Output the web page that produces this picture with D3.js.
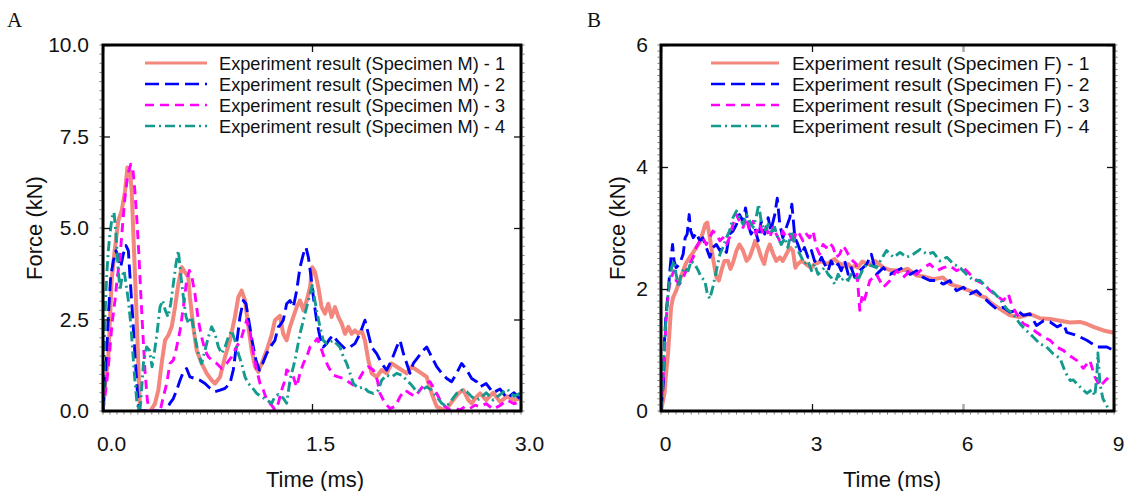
<!DOCTYPE html>
<html><head><meta charset="utf-8">
<script src="https://cdn.jsdelivr.net/npm/d3@7/dist/d3.min.js"></script>
<style>html,body{margin:0;padding:0;background:#fff;}svg{display:block;}</style>
</head><body>
<svg id="chart" width="1141" height="491"></svg>
<script>
// ---------------- DATA ----------------
const legendA = ["Experiment result (Specimen M) - 1","Experiment result (Specimen M) - 2","Experiment result (Specimen M) - 3","Experiment result (Specimen M) - 4"];
const legendB = ["Experiment result (Specimen F) - 1","Experiment result (Specimen F) - 2","Experiment result (Specimen F) - 3","Experiment result (Specimen F) - 4"];
const xTicksA = [0, 1.5, 3];
const yTicksA = [0, 2.5, 5, 7.5, 10];
const xTicksB = [0, 3, 6, 9];
const yTicksB = [0, 2, 4, 6];

// Panel A: [time ms, force kN]
const seriesA1 = [[0,0.2],[0.038,1.48],[0.062,3.57],[0.086,4.47],[0.11,5.2],[0.134,5.47],[0.158,6.0],[0.175,6.65],[0.194,6.56],[0.206,6.0],[0.218,4.84],[0.237,3.02],[0.254,1.2],[0.266,0],[0.34,0],[0.373,0.2],[0.397,0.57],[0.421,1.3],[0.445,1.93],[0.469,2.07],[0.493,2.3],[0.517,2.84],[0.541,3.48],[0.565,3.93],[0.589,3.79],[0.612,3.66],[0.624,3.11],[0.648,2.3],[0.672,1.66],[0.708,1.3],[0.744,1.03],[0.78,0.84],[0.804,0.75],[0.84,0.93],[0.876,1.48],[0.911,1.93],[0.947,2.57],[0.971,3.11],[0.995,3.29],[1.019,3.02],[1.043,2.3],[1.067,1.66],[1.091,1.21],[1.115,1.07],[1.139,1.3],[1.175,1.66],[1.21,2.07],[1.234,2.48],[1.27,2.6],[1.294,2.1],[1.318,1.93],[1.342,2.3],[1.366,2.57],[1.39,2.84],[1.414,3.02],[1.438,2.75],[1.462,3.02],[1.486,3.39],[1.502,3.93],[1.522,3.79],[1.545,3.39],[1.569,2.84],[1.593,2.66],[1.617,2.93],[1.641,2.57],[1.665,2.84],[1.689,2.57],[1.713,2.39],[1.737,2.11],[1.761,2.3],[1.785,2.11],[1.808,2.2],[1.832,2.11],[1.856,2.2],[1.88,1.93],[1.904,1.39],[1.928,1.03],[1.964,0.93],[2.0,1.12],[2.036,1.03],[2.072,1.3],[2.108,1.21],[2.144,1.12],[2.18,1.03],[2.215,1.21],[2.251,1.12],[2.287,1.03],[2.323,0.93],[2.359,0.48],[2.395,0.12],[2.443,0.03],[2.478,0.12],[2.514,0.3],[2.55,0.48],[2.586,0.57],[2.622,0.3],[2.646,0.21],[2.682,0.39],[2.706,0.48],[2.75,0.3],[2.8,0.5],[2.85,0.25],[2.9,0.4],[2.95,0.3],[3.0,0.35]];
const seriesA2 = [[0,0],[0.022,1.2],[0.038,2.57],[0.055,3.66],[0.074,4.1],[0.093,4.38],[0.11,4.2],[0.127,3.93],[0.146,4.29],[0.165,4.52],[0.182,4.38],[0.194,3.66],[0.213,2.57],[0.23,1.48],[0.246,0.57],[0.26,0],[0.452,0],[0.48,0.21],[0.505,0.34],[0.529,0.57],[0.553,0.84],[0.577,1.07],[0.6,1.16],[0.624,0.93],[0.66,0.89],[0.696,0.84],[0.732,0.75],[0.768,0.62],[0.804,0.53],[0.84,0.57],[0.876,0.62],[0.911,0.75],[0.935,1.12],[0.959,1.84],[0.983,2.57],[1.007,3.02],[1.026,2.93],[1.05,2.39],[1.074,1.84],[1.098,1.39],[1.122,1.12],[1.146,1.3],[1.175,1.57],[1.21,1.8],[1.234,1.93],[1.258,2.3],[1.27,2.34],[1.294,2.48],[1.318,2.93],[1.342,3.02],[1.366,2.84],[1.39,3.29],[1.414,3.93],[1.438,4.29],[1.457,4.47],[1.474,4.2],[1.49,3.75],[1.51,3.11],[1.533,2.48],[1.557,2.02],[1.581,1.75],[1.605,1.84],[1.629,1.98],[1.653,2.07],[1.677,1.93],[1.7,1.84],[1.737,1.7],[1.773,1.75],[1.808,1.84],[1.844,2.11],[1.88,2.48],[1.904,2.11],[1.928,1.75],[1.964,1.57],[2.0,1.3],[2.036,1.12],[2.072,1.39],[2.108,1.75],[2.132,1.93],[2.156,1.57],[2.18,1.3],[2.203,1.03],[2.227,1.3],[2.263,1.48],[2.299,1.66],[2.323,1.75],[2.359,1.48],[2.395,1.21],[2.431,1.03],[2.467,0.89],[2.502,0.8],[2.538,1.03],[2.574,1.3],[2.61,1.12],[2.646,0.89],[2.682,0.8],[2.706,0.66],[2.75,0.75],[2.8,0.5],[2.85,0.6],[2.9,0.35],[2.95,0.5],[3.0,0.3]];
const seriesA3 = [[0,0],[0.026,0.75],[0.045,1.48],[0.065,2.39],[0.086,3.02],[0.103,3.66],[0.122,4.2],[0.141,5.11],[0.16,5.93],[0.179,6.47],[0.199,6.74],[0.213,6.65],[0.225,6.2],[0.242,5.29],[0.256,4.38],[0.27,3.29],[0.285,2.2],[0.301,1.12],[0.318,0.3],[0.333,0],[0.41,0],[0.433,0.39],[0.457,0.75],[0.481,1.3],[0.505,1.39],[0.529,1.75],[0.553,2.2],[0.577,2.84],[0.6,3.57],[0.62,3.84],[0.636,3.7],[0.66,3.2],[0.684,2.48],[0.708,2.02],[0.732,1.66],[0.756,1.48],[0.78,1.39],[0.816,1.3],[0.852,1.16],[0.888,1.3],[0.923,1.48],[0.959,1.75],[0.995,2.02],[1.031,2.48],[1.055,2.2],[1.079,1.57],[1.103,1.12],[1.127,0.75],[1.151,0.57],[1.175,0.3],[1.21,0.16],[1.234,0.03],[1.258,0.21],[1.282,0.57],[1.306,0.84],[1.318,1.12],[1.342,1.05],[1.366,0.93],[1.39,0.66],[1.414,1.03],[1.438,1.3],[1.462,1.48],[1.486,1.75],[1.51,1.84],[1.538,1.98],[1.562,1.75],[1.586,1.48],[1.617,1.21],[1.653,0.98],[1.689,0.93],[1.725,0.89],[1.761,0.8],[1.797,0.71],[1.832,0.84],[1.868,1.07],[1.904,1.21],[1.94,1.12],[1.969,0.84],[1.988,0.48],[2.024,0.21],[2.06,0.07],[2.096,0.12],[2.132,0.39],[2.167,0.57],[2.203,0.48],[2.239,0.39],[2.275,0.57],[2.311,0.75],[2.347,0.8],[2.383,0.57],[2.419,0.3],[2.455,0.12],[2.49,0.03],[2.526,0.07],[2.562,0.03],[2.598,0.12],[2.634,0.07],[2.67,0.16],[2.706,0.12],[2.75,0.2],[2.8,0.05],[2.85,0.15],[2.9,0.3],[2.95,0.2],[3.0,0.25]];
const seriesA4 = [[0,0],[0.007,0.75],[0.014,2.57],[0.026,3.66],[0.038,4.38],[0.05,4.84],[0.065,5.29],[0.079,5.43],[0.093,4.84],[0.108,3.93],[0.122,3.29],[0.136,3.66],[0.151,3.84],[0.165,3.48],[0.182,3.02],[0.199,2.39],[0.213,1.66],[0.227,0.93],[0.242,0.3],[0.256,0],[0.27,0.2],[0.29,1.3],[0.313,1.75],[0.333,1.66],[0.352,1.21],[0.371,1.66],[0.39,2.2],[0.409,2.84],[0.428,3.02],[0.447,2.75],[0.467,2.57],[0.486,2.93],[0.505,3.48],[0.524,4.02],[0.541,4.38],[0.557,3.75],[0.577,3.11],[0.596,2.57],[0.615,2.39],[0.636,2.57],[0.66,2.02],[0.684,1.57],[0.708,1.3],[0.732,1.66],[0.756,2.02],[0.78,2.3],[0.804,2.11],[0.828,1.75],[0.852,1.57],[0.876,1.75],[0.9,2.02],[0.923,2.2],[0.947,1.93],[0.971,1.57],[0.995,1.3],[1.019,0.93],[1.043,0.75],[1.067,0.66],[1.103,0.48],[1.139,0.39],[1.175,0.3],[1.21,0.21],[1.234,0.39],[1.258,0.45],[1.294,0.35],[1.318,0.21],[1.342,0.84],[1.378,1.39],[1.414,2.11],[1.45,2.66],[1.486,3.2],[1.502,3.43],[1.533,2.75],[1.557,2.3],[1.581,1.93],[1.605,1.84],[1.653,1.93],[1.7,1.75],[1.725,1.48],[1.749,1.3],[1.773,1.03],[1.797,0.75],[1.833,0.62],[1.868,0.66],[1.904,0.53],[1.94,0.48],[1.976,0.57],[2.0,0.84],[2.036,0.98],[2.072,0.93],[2.108,1.03],[2.144,0.98],[2.179,0.84],[2.215,0.71],[2.251,0.53],[2.287,0.57],[2.323,0.66],[2.359,0.57],[2.395,0.39],[2.431,0.21],[2.467,0.12],[2.502,0.3],[2.538,0.48],[2.574,0.57],[2.61,0.53],[2.646,0.39],[2.682,0.3],[2.706,0.34],[2.75,0.5],[2.8,0.3],[2.85,0.45],[2.9,0.6],[2.95,0.4],[3.0,0.5]];

// Panel B: [time ms, force kN]
const seriesB1 = [[0,0],[0.07,0.29],[0.1,0.61],[0.14,0.94],[0.17,1.32],[0.2,1.7],[0.24,1.86],[0.3,1.97],[0.37,2.14],[0.44,2.3],[0.5,2.43],[0.57,2.52],[0.64,2.6],[0.7,2.68],[0.77,2.76],[0.83,2.92],[0.88,3.06],[0.92,3.09],[0.97,2.84],[1.03,2.52],[1.1,2.19],[1.15,2.14],[1.2,2.3],[1.26,2.46],[1.33,2.46],[1.38,2.33],[1.43,2.43],[1.5,2.63],[1.56,2.73],[1.63,2.63],[1.7,2.46],[1.76,2.52],[1.83,2.68],[1.87,2.79],[1.93,2.68],[1.99,2.52],[2.05,2.41],[2.1,2.6],[2.16,2.73],[2.23,2.57],[2.29,2.46],[2.36,2.52],[2.42,2.46],[2.49,2.57],[2.56,2.68],[2.62,2.63],[2.67,2.35],[2.72,2.41],[2.79,2.46],[2.85,2.43],[2.92,2.38],[2.99,2.35],[3.05,2.41],[3.12,2.43],[3.19,2.46],[3.25,2.43],[3.32,2.41],[3.38,2.46],[3.45,2.49],[3.52,2.43],[3.58,2.41],[3.65,2.38],[3.72,2.41],[3.78,2.35],[3.85,2.38],[3.91,2.35],[4.0,2.45],[4.15,2.4],[4.25,2.46],[4.42,2.35],[4.55,2.31],[4.75,2.3],[4.9,2.33],[5.08,2.22],[5.25,2.2],[5.42,2.16],[5.6,2.19],[5.74,2.08],[5.94,2.03],[6.14,1.97],[6.34,1.89],[6.45,1.86],[6.54,1.78],[6.74,1.67],[6.93,1.57],[7.13,1.54],[7.33,1.59],[7.53,1.52],[7.73,1.51],[7.93,1.48],[8.13,1.45],[8.32,1.46],[8.45,1.43],[8.59,1.38],[8.79,1.32],[8.95,1.29],[9.0,1.28]];
const seriesB2 = [[0,0],[0.05,0.5],[0.07,1.16],[0.1,1.59],[0.14,1.92],[0.17,2.24],[0.2,2.52],[0.23,2.73],[0.26,2.46],[0.3,2.35],[0.37,2.41],[0.44,2.57],[0.48,2.84],[0.52,2.9],[0.56,3.22],[0.59,2.95],[0.64,2.84],[0.7,2.92],[0.77,2.79],[0.83,2.84],[0.9,2.68],[0.97,2.52],[1.03,2.68],[1.1,2.73],[1.17,2.63],[1.23,2.68],[1.3,2.6],[1.36,2.9],[1.43,2.95],[1.5,3.06],[1.56,3.22],[1.63,3.11],[1.68,3.33],[1.73,3.06],[1.79,2.9],[1.86,3.01],[1.93,2.79],[1.99,3.11],[2.06,2.9],[2.13,3.17],[2.18,2.95],[2.26,3.22],[2.31,3.49],[2.36,3.06],[2.42,2.84],[2.49,3.01],[2.56,3.17],[2.6,3.39],[2.66,2.84],[2.72,2.73],[2.79,2.57],[2.85,2.68],[2.92,2.52],[2.99,2.63],[3.05,2.46],[3.12,2.41],[3.19,2.52],[3.25,2.41],[3.32,2.3],[3.38,2.46],[3.45,2.35],[3.52,2.41],[3.58,2.3],[3.65,2.46],[3.72,2.24],[3.78,2.35],[3.85,2.19],[3.95,2.3],[4.09,2.41],[4.18,2.57],[4.28,2.24],[4.42,2.35],[4.55,2.24],[4.68,2.3],[4.81,2.35],[4.95,2.24],[5.08,2.3],[5.21,2.19],[5.34,2.14],[5.48,2.14],[5.61,2.08],[5.74,2.14],[5.87,1.97],[6.01,2.03],[6.14,1.92],[6.27,1.97],[6.41,1.86],[6.54,1.76],[6.67,1.67],[6.8,1.7],[6.93,1.62],[7.07,1.65],[7.2,1.57],[7.33,1.59],[7.46,1.4],[7.6,1.48],[7.73,1.46],[7.87,1.38],[8.0,1.43],[8.06,1.29],[8.26,1.24],[8.46,1.16],[8.66,1.05],[8.86,1.05],[9.0,0.99]];
const seriesB3 = [[0,0],[0.06,0.78],[0.1,1.48],[0.15,1.97],[0.2,2.19],[0.26,2.3],[0.3,2.14],[0.37,2.08],[0.44,2.19],[0.5,2.3],[0.57,2.41],[0.64,2.52],[0.7,2.68],[0.77,2.79],[0.83,2.84],[0.9,2.73],[0.97,2.84],[1.03,2.95],[1.1,2.9],[1.17,2.79],[1.23,2.84],[1.3,2.73],[1.36,2.84],[1.43,3.06],[1.5,3.22],[1.56,3.11],[1.63,3.01],[1.7,3.17],[1.76,2.95],[1.83,3.11],[1.89,2.9],[1.96,3.06],[2.03,2.9],[2.09,3.01],[2.16,2.84],[2.23,3.01],[2.29,2.9],[2.36,2.79],[2.42,2.95],[2.49,2.84],[2.56,2.9],[2.62,2.73],[2.69,2.95],[2.75,2.9],[2.82,2.79],[2.89,2.9],[2.95,2.84],[3.02,2.95],[3.09,2.68],[3.15,2.57],[3.22,2.73],[3.28,2.68],[3.35,2.76],[3.42,2.68],[3.48,2.52],[3.55,2.57],[3.62,2.71],[3.68,2.63],[3.75,2.52],[3.81,2.46],[3.88,2.41],[3.95,1.65],[3.99,1.86],[4.02,1.76],[4.15,2.14],[4.28,2.24],[4.42,2.03],[4.55,2.14],[4.68,2.3],[4.81,2.19],[4.95,2.3],[5.08,2.24],[5.21,2.35],[5.34,2.41],[5.48,2.3],[5.61,2.35],[5.74,2.38],[5.87,2.3],[6.01,2.35],[6.14,2.24],[6.27,2.14],[6.41,2.08],[6.54,1.97],[6.67,1.89],[6.8,1.81],[6.9,1.92],[6.97,1.73],[7.07,1.59],[7.2,1.43],[7.33,1.38],[7.46,1.29],[7.6,1.21],[7.73,1.16],[7.86,1.05],[8.0,0.99],[8.06,0.94],[8.26,0.83],[8.39,0.7],[8.52,0.83],[8.62,0.56],[8.72,0.4],[8.86,0.53],[9.0,0.45]];
const seriesB4 = [[0,0],[0.05,0.72],[0.09,1.38],[0.13,1.81],[0.17,2.14],[0.21,2.35],[0.26,2.46],[0.3,2.24],[0.35,2.03],[0.4,2.24],[0.47,2.35],[0.54,2.3],[0.6,2.46],[0.67,2.41],[0.74,2.3],[0.8,2.19],[0.87,2.14],[0.92,1.92],[0.97,1.84],[1.03,2.03],[1.1,2.3],[1.17,2.57],[1.23,2.68],[1.3,2.84],[1.36,2.95],[1.43,3.17],[1.5,3.28],[1.56,3.17],[1.63,3.06],[1.7,3.22],[1.76,3.11],[1.83,3.01],[1.89,3.17],[1.94,3.39],[1.99,3.11],[2.06,2.95],[2.13,3.06],[2.19,2.9],[2.26,3.01],[2.32,2.84],[2.39,2.73],[2.46,2.84],[2.52,2.68],[2.59,2.95],[2.66,2.73],[2.72,2.63],[2.79,2.52],[2.85,2.41],[2.92,2.46],[2.99,2.3],[3.05,2.41],[3.12,2.24],[3.19,2.3],[3.25,2.35],[3.32,2.24],[3.38,2.19],[3.45,2.08],[3.52,2.24],[3.58,2.14],[3.65,2.19],[3.72,2.14],[3.78,2.24],[3.85,2.19],[3.91,2.14],[4.0,2.3],[4.09,2.41],[4.28,2.35],[4.48,2.63],[4.62,2.52],[4.75,2.6],[4.88,2.52],[5.01,2.57],[5.15,2.65],[5.28,2.57],[5.41,2.6],[5.54,2.46],[5.68,2.52],[5.81,2.41],[5.94,2.35],[6.07,2.24],[6.21,2.14],[6.34,2.14],[6.47,2.03],[6.6,1.95],[6.73,1.84],[6.87,1.67],[7.0,1.59],[7.13,1.43],[7.26,1.32],[7.4,1.21],[7.53,1.1],[7.66,1.05],[7.79,0.94],[7.93,0.86],[8.03,0.64],[8.13,0.5],[8.19,0.51],[8.32,0.4],[8.46,0.29],[8.56,0.35],[8.62,0.25],[8.66,0.6],[8.68,0.95],[8.72,0.45],[8.78,0.2],[8.85,0.1],[8.9,0]];

// ---------------- DRAW ----------------
const svg = d3.select("#chart");
const FONT = "'Liberation Sans', Arial, sans-serif";
const styles = [
  {color:"#f3877d", width:4, dash:null},
  {color:"#0000ff", width:2.9, dash:"14,6"},
  {color:"#ff00ff", width:2.9, dash:"9,6"},
  {color:"#149a8e", width:2.9, dash:"10,4,2,4"}
];

function panel(cfg){
  const x = d3.scaleLinear().domain(cfg.xDomain).range([cfg.left, cfg.right]);
  const y = d3.scaleLinear().domain(cfg.yDomain).range([cfg.bottom, cfg.top]);
  const g = svg.append("g");
  const clipId = "clip" + cfg.id;
  svg.append("defs").append("clipPath").attr("id", clipId)
    .append("rect").attr("x", cfg.left).attr("y", cfg.top - 1)
    .attr("width", cfg.right - cfg.left).attr("height", cfg.bottom - cfg.top + 1);

  // minor ticks (outside)
  const mg = g.append("g").attr("stroke", "#777").attr("stroke-width", 1);
  d3.range(cfg.xDomain[0], cfg.xDomain[1] + 1e-9, cfg.xMinor).forEach(v => {
    mg.append("line").attr("x1", x(v)).attr("x2", x(v)).attr("y1", cfg.bottom + 1.5).attr("y2", cfg.bottom + 3.5);
  });
  d3.range(cfg.yDomain[0], cfg.yDomain[1] + 1e-9, cfg.yMinor).forEach(v => {
    mg.append("line").attr("y1", y(v)).attr("y2", y(v)).attr("x1", cfg.left - 1.5).attr("x2", cfg.left - 3.5);
    mg.append("line").attr("y1", y(v)).attr("y2", y(v)).attr("x1", cfg.right + 1.5).attr("x2", cfg.right + 3.5);
  });

  // series
  const line = d3.line().x(d => x(d[0])).y(d => y(d[1]));
  const lg = g.append("g").attr("clip-path", `url(#${clipId})`);
  cfg.series.forEach((s, i) => {
    const st = styles[i];
    lg.append("path").datum(s).attr("d", line)
      .attr("fill", "none").attr("stroke", st.color).attr("stroke-width", st.width)
      .attr("stroke-linejoin", "round")
      .attr("stroke-dasharray", st.dash);
  });

  // axes
  const yAxisL = d3.axisLeft(y).tickValues(cfg.yTicks).tickSize(-7).tickPadding(cfg.yPad).tickFormat(cfg.yFmt);
  const yAxisR = d3.axisRight(y).tickValues(cfg.yTicks).tickSize(-7).tickFormat("");
  const xAxisB = d3.axisBottom(x).tickValues(cfg.xTicks).tickSize(-7).tickPadding(25).tickFormat(cfg.xFmt);
  const xAxisT = d3.axisTop(x).tickValues(cfg.xTicks).tickSize(-7).tickFormat("");
  const ax = [
    g.append("g").attr("transform", `translate(${cfg.left},0)`).call(yAxisL),
    g.append("g").attr("transform", `translate(${cfg.right},0)`).call(yAxisR),
    g.append("g").attr("transform", `translate(0,${cfg.bottom})`).call(xAxisB),
    g.append("g").attr("transform", `translate(0,${cfg.top})`).call(xAxisT)
  ];
  ax.forEach(a => {
    a.select(".domain").remove();
    a.selectAll(".tick line").attr("stroke", "#111").attr("stroke-width", 1.3);
    a.selectAll(".tick text").attr("font-family", FONT).attr("font-size", 21).attr("fill", "#111");
  });
  ax[2].selectAll(".tick text").attr("dx", cfg.xLabelShift);
  if (cfg.grayTick !== undefined) {
    [ax[2], ax[3]].forEach(a => a.selectAll(".tick").filter(d => d === cfg.grayTick)
      .select("line").attr("stroke", "#aaa").attr("stroke-width", 2.5));
  }

  // frame
  g.append("rect").attr("x", cfg.left).attr("y", cfg.top)
    .attr("width", cfg.right - cfg.left).attr("height", cfg.bottom - cfg.top)
    .attr("fill", "none").attr("stroke", "#000").attr("stroke-width", 3);

  // titles
  g.append("text").attr("x", cfg.xTitleX).attr("y", 487).attr("text-anchor", "middle")
    .attr("font-family", FONT).attr("font-size", 22).attr("fill", "#111").text("Time (ms)");
  g.append("text").attr("transform", `translate(${cfg.yTitleX},${(cfg.top + cfg.bottom) / 2}) rotate(-90)`)
    .attr("text-anchor", "middle").attr("font-family", FONT).attr("font-size", 22).attr("fill", "#111")
    .text("Force (kN)");
  g.append("text").attr("x", cfg.letterX).attr("y", 27)
    .attr("font-family", "'Liberation Serif', 'Times New Roman', serif").attr("font-size", 21)
    .attr("fill", "#111").text(cfg.letter);

  // legend
  const leg = g.append("g");
  cfg.legend.forEach((label, i) => {
    const st = styles[i];
    const yy = cfg.legendY + i * 21;
    leg.append("line").attr("x1", cfg.legLine[0]).attr("x2", cfg.legLine[1])
      .attr("y1", yy).attr("y2", yy).attr("stroke", st.color)
      .attr("stroke-width", i === 0 ? 3 : 2.4).attr("stroke-dasharray", st.dash);
    leg.append("text").attr("x", cfg.legText).attr("y", yy + 6.5)
      .attr("font-family", FONT).attr("font-size", cfg.legFont).attr("fill", "#111").text(label);
  });
}

panel({
  id: "A", letter: "A", letterX: 7,
  left: 103, right: 521, top: 45, bottom: 411,
  xDomain: [0, 3], yDomain: [0, 10], xTicks: xTicksA, yTicks: yTicksA,
  xMinor: 0.05, yMinor: 0.25,
  xFmt: d3.format(".1f"), yFmt: d3.format(".1f"), yPad: 14, xLabelShift: 8,
  xTitleX: 315, yTitleX: 42,
  series: [seriesA1, seriesA2, seriesA3, seriesA4], legend: legendA,
  legendY: 63, legLine: [145, 207], legText: 219, legFont: 18.2
});
panel({
  id: "B", letter: "B", letterX: 587,
  left: 661, right: 1114, top: 45, bottom: 411,
  xDomain: [0, 9], yDomain: [0, 6], xTicks: xTicksB, yTicks: yTicksB,
  xMinor: 0.15, yMinor: 0.1, grayTick: 6,
  xFmt: d3.format("d"), yFmt: d3.format("d"), yPad: 13, xLabelShift: 4,
  xTitleX: 892, yTitleX: 625,
  series: [seriesB1, seriesB2, seriesB3, seriesB4], legend: legendB,
  legendY: 63, legLine: [711, 779], legText: 792, legFont: 19.2
});
</script>
</body></html>
